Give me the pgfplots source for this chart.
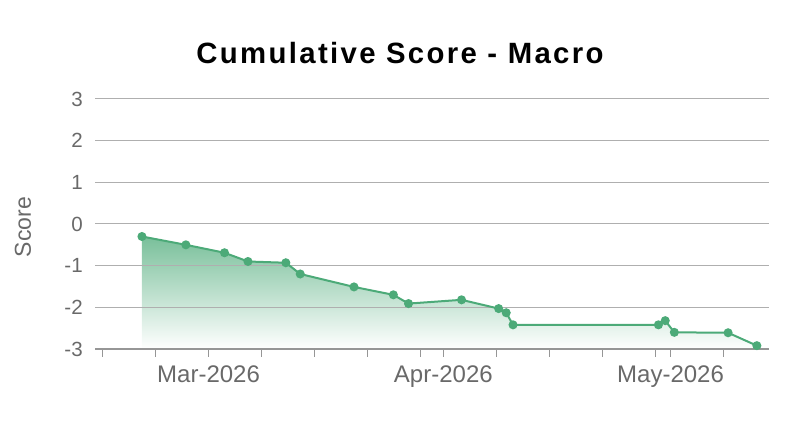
\documentclass[border=0pt]{standalone}
\usepackage{pgfplots}
\pgfplotsset{compat=1.18}
\usepackage{fontspec}
\setmainfont{Liberation Sans}
\newfontfamily\titlefont{Liberation Sans}[LetterSpace=8]

\definecolor{linegreen}{RGB}{76,170,120}
\definecolor{gridgray}{RGB}{175,175,175}
\definecolor{axisgray}{RGB}{150,150,150}
\definecolor{labelgray}{RGB}{105,105,105}

% days counted from 1 Mar 2026
\pgfplotstableread{
day score
-8.8 -0.30
-3.0 -0.50
2.1 -0.69
5.2 -0.90
10.2 -0.93
12.1 -1.20
19.2 -1.51
24.4 -1.70
26.4 -1.91
33.4 -1.82
38.3 -2.03
39.3 -2.13
40.2 -2.42
59.4 -2.42
60.3 -2.32
61.5 -2.60
68.6 -2.61
72.4 -2.92
}\scores

\pgfplotstableread{
day score
-8.8 -3
-8.8 -0.30
-3.0 -0.50
2.1 -0.69
5.2 -0.90
10.2 -0.93
12.1 -1.20
19.2 -1.51
24.4 -1.70
26.4 -1.91
33.4 -1.82
38.3 -2.03
39.3 -2.13
40.2 -2.42
59.4 -2.42
60.3 -2.32
61.5 -2.60
68.6 -2.61
72.4 -2.92
72.4 -3
}\area

\begin{document}
\begin{tikzpicture}
\begin{axis}[
  set layers,
  scale only axis,
  width=505.5pt, height=187.5pt,
  xmin=-15, xmax=74,
  ymin=-3, ymax=3,
  axis x line*=bottom,
  axis y line*=left,
  y axis line style={draw=none},
  x axis line style={draw=axisgray, line width=1.1pt},
  ytick={-3,-2,-1,0,1,2,3},
  yticklabels={-3,-2,-1,0,1,2,3},
  ytick style={draw=none},
  ymajorgrids,
  major grid style={draw=gridgray, line width=0.75pt},
  xtick={0,31,61},
  xticklabels={Mar-2026,Apr-2026,May-2026},
  minor xtick={-14,-7,7,14,21,28,38,45,52,59,68},
  xtick align=outside,
  major tick length=6pt,
  minor tick length=6pt,
  xtick style={draw=axisgray, line width=0.8pt},
  minor x tick style={draw=axisgray, line width=0.8pt},
  yticklabel style={font=\fontsize{15.4}{18}\selectfont, text=labelgray, anchor=east, inner sep=0pt, xshift=-9pt},
  xticklabel style={font=\fontsize{18}{21}\selectfont, text=labelgray, anchor=north, inner sep=0pt, yshift=-6pt},
  ylabel={Score},
  ylabel style={at={(rel axis cs:0,0.488)}, anchor=center, yshift=54pt,
    font=\fontsize{17.25}{20}\selectfont, text=labelgray},
  title={Cumulative Score - Macro},
  title style={at={(0.4525,1)}, anchor=base, yshift=20.5pt, inner sep=0pt,
    font=\titlefont\bfseries\fontsize{22}{26}\selectfont, text=black},
]
\addplot[draw=none, top color=linegreen!75!white, bottom color=white,
  on layer=axis background] table[x=day, y=score] {\area};
\addplot[color=linegreen, line width=1.5pt, mark=*, mark size=2.6pt,
  mark options={fill=linegreen, draw=linegreen}] table[x=day, y=score] {\scores};
\coordinate (sw) at (rel axis cs:0,0);
\end{axis}
\path ([shift={(-71.25pt,-61.5pt)}]sw) rectangle ([shift={(528.75pt,261.75pt)}]sw);
\end{tikzpicture}
\end{document}
